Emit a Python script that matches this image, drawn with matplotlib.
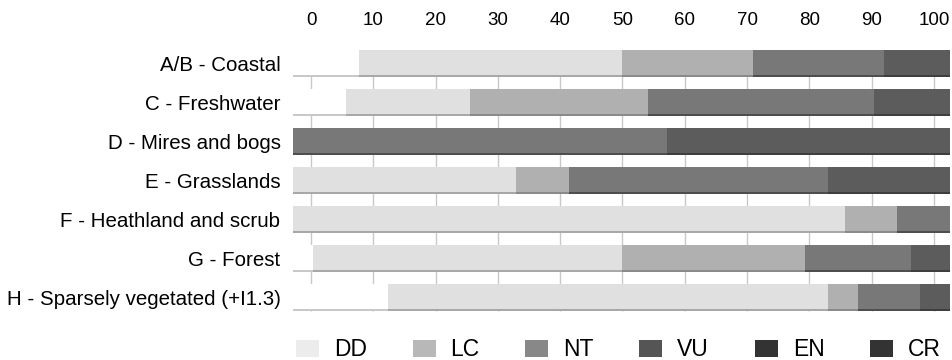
import matplotlib
matplotlib.use("Agg")
import matplotlib.pyplot as plt
from matplotlib.patches import Patch
import numpy as np

plt.rcParams['font.family'] = ['Liberation Sans', 'DejaVu Sans']

categories = ["A/B - Coastal", "C - Freshwater", "D - Mires and bogs", "E - Grasslands",
              "F - Heathland and scrub", "G - Forest", "H - Sparsely vegetated (+I1.3)"]
status = ["DD", "LC", "NT", "VU", "EN", "CR"]
DD = [10, 8, 0, 0, 0, 3, 14.5]
LC = [40, 19, 0, 34, 84, 47, 67]
NT = [20, 27, 0, 8, 8, 28, 4.5]
VU = [20, 34.5, 57, 39.5, 8, 16, 9.5]
EN = [10, 11.5, 43, 18.5, 0, 6, 4.5]
CR = [0, 0, 0, 0, 0, 0, 0]
tick_values = [0, 10, 20, 30, 40, 50, 60, 70, 80, 90, 100]

series = [DD, LC, NT, VU, EN, CR]
bar_colors = ["#ffffff", "#e0e0e0", "#b0b0b0", "#787878", "#5c5c5c", "#505050"]
edge_colors = ["#c8c8c8", "#a8a8a8", "#8a8a8a", "#4e4e4e", "#3e3e3e", "#353535"]
legend_colors = ["#ececec", "#b8b8b8", "#888888", "#555555", "#333333", "#333333"]

W, H = 952, 360
fig = plt.figure(figsize=(W / 100, H / 100), dpi=100)

left, right = 293 / W, 950 / W
bottom, top = 1 - 317 / H, 1 - 44 / H
rect = [left, bottom, right - left, top - bottom]

bar_h = 0.69
y = np.arange(len(categories))

# tick / grid axis (behind)
axt = fig.add_axes(rect, zorder=0)
axt.set_xlim(-2.89, 102.57)
axt.set_ylim(len(categories) - 0.5, -0.5)
axt.xaxis.tick_top()
axt.set_xticks(tick_values)
axt.set_xticklabels([str(v) for v in tick_values], fontsize=13.5)
axt.tick_params(axis='x', length=0, pad=11)
axt.set_yticks([])
for s in axt.spines.values():
    s.set_visible(False)
axt.vlines(tick_values, -bar_h / 2, len(categories) - 1 + bar_h / 2,
           colors="#c8c8c8", linewidth=1.0, zorder=0)

# bar axis (front)
ax = fig.add_axes(rect, zorder=1)
ax.patch.set_alpha(0)
ax.set_xlim(0, 100)
ax.set_ylim(len(categories) - 0.5, -0.5)
left_acc = np.zeros(len(categories))
for vals, c, ec in zip(series, bar_colors, edge_colors):
    vals = np.array(vals, dtype=float)
    ax.barh(y, vals, left=left_acc, height=bar_h, color=c, edgecolor='none', zorder=2)
    # darker bottom band for a bevelled look
    ax.barh(y + bar_h / 2 - 0.03, vals, left=left_acc, height=0.06, color=ec,
            edgecolor='none', zorder=3)
    left_acc += vals
ax.set_xticks([])
ax.set_yticks(y)
ax.set_yticklabels(categories, fontsize=14.8)
ax.tick_params(axis='y', length=0, pad=9)
for s in ax.spines.values():
    s.set_visible(False)

handles = [Patch(facecolor=c, edgecolor='none') for c in legend_colors]
fig.legend(handles, status, loc='center left', bbox_to_anchor=(296 / W, 1 - 350 / H),
           ncol=6, frameon=False, fontsize=16.5, borderaxespad=0, borderpad=0,
           handlelength=1.0, handleheight=0.8, handletextpad=0.65, columnspacing=2.0)

fig.savefig("out.png", dpi=100)
